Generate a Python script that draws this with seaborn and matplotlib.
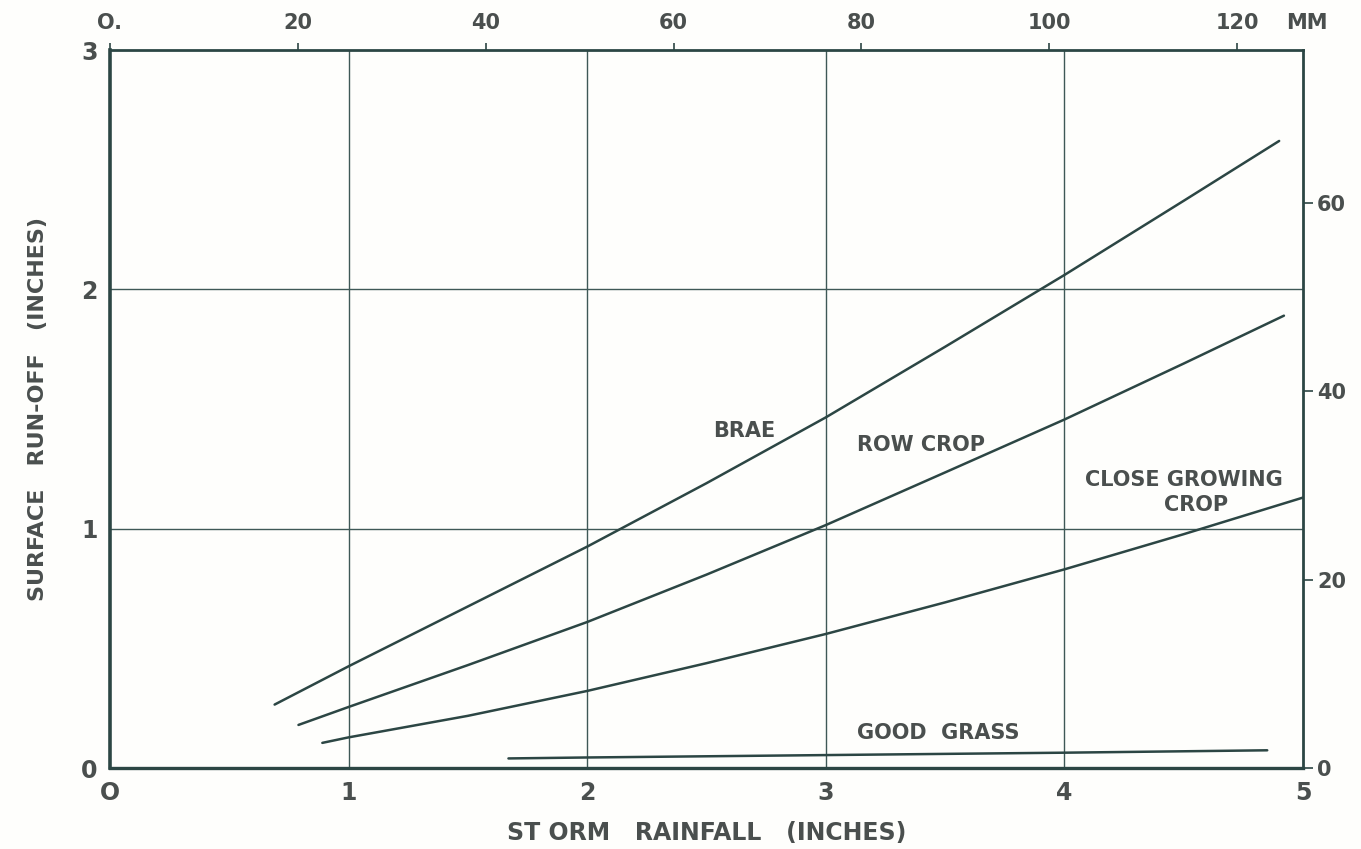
import numpy as np
import pandas as pd
import matplotlib
matplotlib.use("Agg")
import matplotlib.pyplot as plt
import seaborn as sns

# curves (storm rainfall vs surface run-off, inches)
brae_x = [0.69, 1.0, 1.5, 2.0, 2.5, 3.0, 3.5, 4.0, 4.5, 4.9]
brae_y = [0.265, 0.425, 0.675, 0.925, 1.19, 1.465, 1.76, 2.06, 2.37, 2.62]

row_x = [0.79, 1.0, 1.5, 2.0, 2.5, 3.0, 3.5, 4.0, 4.5, 4.92]
row_y = [0.18, 0.255, 0.43, 0.61, 0.808, 1.015, 1.235, 1.456, 1.69, 1.89]

close_x = [0.89, 1.0, 1.5, 2.0, 2.5, 3.0, 3.5, 4.0, 4.5, 5.0]
close_y = [0.105, 0.128, 0.218, 0.322, 0.438, 0.56, 0.692, 0.83, 0.977, 1.13]

grass_x = [1.67, 2.0, 3.0, 4.0, 4.85]
grass_y = [0.04, 0.044, 0.054, 0.064, 0.074]

x_ticks = [0, 1, 2, 3, 4, 5]
x_ticklabels = ["O", "1", "2", "3", "4", "5"]
y_ticks = [0, 1, 2, 3]
mm_top = [0, 20, 40, 60, 80, 100, 120]
mm_top_labels = ["O.", "20", "40", "60", "80", "100", "120"]
mm_right = [0, 20, 40, 60]
mm_right_labels = ["0", "20", "40", "60"]

sns.set_theme(style="white")
plt.rcParams['font.family'] = ['DejaVu Sans']

ink = "#2c4644"
grid_ink = "#3e5856"
txt = "#4a4f4e"

fig = plt.figure(figsize=(13.61, 8.49), dpi=100)
fig.patch.set_facecolor("#fefefc")
ax = fig.add_axes([0.0808, 0.0954, 0.8766, 0.8457])
ax.set_facecolor("#fefefc")

# grid first so curves sit on top
for gx in [1, 2, 3, 4]:
    ax.axvline(gx, color=grid_ink, lw=1.0, zorder=1)
for gy in [1, 2]:
    ax.axhline(gy, color=grid_ink, lw=1.0, zorder=1)

for xs, ys in [(brae_x, brae_y), (row_x, row_y), (close_x, close_y), (grass_x, grass_y)]:
    df = pd.DataFrame({"rain": xs, "runoff": ys})
    sns.lineplot(data=df, x="rain", y="runoff", sort=False, estimator=None,
                 color=ink, lw=1.8, ax=ax, zorder=3)

ax.set_xlim(0, 5)
ax.set_ylim(0, 3)
ax.set_xticks(x_ticks)
ax.set_xticklabels(x_ticklabels)
ax.set_yticks(y_ticks)
ax.tick_params(axis="both", length=0, pad=9, labelsize=17, labelcolor=txt)
for lab in ax.get_xticklabels() + ax.get_yticklabels():
    lab.set_fontweight("bold")

for side, w in [("left", 2.6), ("bottom", 2.4), ("top", 2.0), ("right", 2.0)]:
    ax.spines[side].set_color(ink)
    ax.spines[side].set_linewidth(w)

ax.set_xlabel("ST ORM   RAINFALL   (INCHES)", fontsize=17, fontweight="bold",
              color=txt, labelpad=12)
ax.set_ylabel("SURFACE   RUN-OFF   (INCHES)", fontsize=16, fontweight="bold",
              color=txt, labelpad=24)

# millimetre scales on top and right
to_mm = (lambda v: v * 25.4, lambda v: v / 25.4)
top = ax.secondary_xaxis("top", functions=to_mm)
top.set_xticks(mm_top)
top.set_xticklabels(mm_top_labels)
top.tick_params(direction="out", length=5, width=1.2, color=ink, pad=7,
                labelsize=15, labelcolor=txt)
top.spines["top"].set_visible(False)

right = ax.secondary_yaxis("right", functions=to_mm)
right.set_yticks(mm_right)
right.set_yticklabels(mm_right_labels)
right.tick_params(direction="out", length=7, width=1.2, color=ink, pad=3,
                  labelsize=15, labelcolor=txt)
right.spines["right"].set_visible(False)
for lab in top.get_xticklabels() + right.get_yticklabels():
    lab.set_fontweight("bold")

ax.text(0.986, 1.037, "MM", transform=ax.transAxes, fontsize=15,
        fontweight="bold", color=txt, ha="left", va="center")

# curve names
lab_kw = dict(fontsize=15, fontweight="bold", color=txt, ha="center", va="center")
ax.text(2.66, 1.41, "BRAE", **lab_kw)
ax.text(3.40, 1.35, "ROW CROP", **lab_kw)
ax.text(4.50, 1.205, "CLOSE GROWING", **lab_kw)
ax.text(4.55, 1.10, "CROP", **lab_kw)
ax.text(3.47, 0.146, "GOOD  GRASS", **lab_kw)

plt.savefig("out.png", dpi=100, facecolor=fig.get_facecolor())
